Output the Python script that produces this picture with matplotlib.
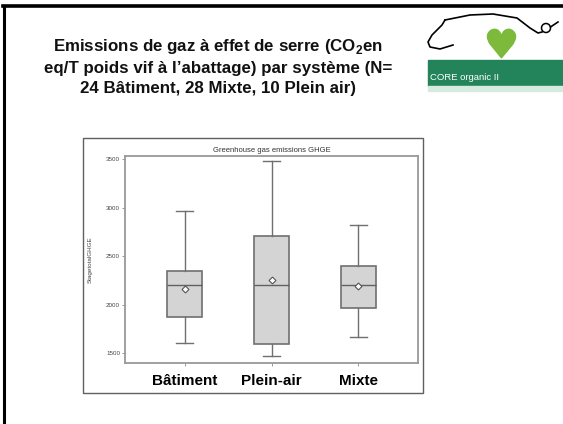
import matplotlib.pyplot as plt
from matplotlib.patches import Rectangle, Circle

# values
systems = ['Bâtiment', 'Plein-air', 'Mixte']
whisker_low = [1605, 1470, 1660]
q1 = [1870, 1590, 1965]
median = [2200, 2205, 2205]
mean = [2158, 2255, 2192]
q3 = [2348, 2705, 2398]
whisker_high = [2960, 3475, 2815]
yticks = [1500, 2000, 2500, 3000, 3500]

title_lines = ['Emissions de gaz à effet de serre (CO$_\\mathbf{2}$en',
               'eq/T poids vif à l\u2019abattage) par système (N=',
               '24 Bâtiment, 28 Mixte, 10 Plein air)']

plt.rcParams['font.family'] = ['Liberation Sans', 'DejaVu Sans']
plt.rcParams['mathtext.fontset'] = 'custom'
plt.rcParams['mathtext.bf'] = 'Liberation Sans:bold'

fig = plt.figure(figsize=(5.63, 4.24), dpi=100)
W, H = 563, 424

def fx(px):
    return px / W

def fy(py):
    return 1 - py / H

# slide border (top and left black lines)
fig.add_artist(plt.Line2D([fx(3), 1], [fy(6), fy(6)], color='black', lw=2.6))
fig.add_artist(plt.Line2D([fx(4), fx(4)], [fy(6), 0], color='black', lw=2.2))

# slide title
for i, line in enumerate(title_lines):
    fig.text(fx(218), fy(47 + i * 21), line, ha='center', va='center',
             fontsize=12.2, fontweight='bold', color='#111111')

# logo: pig outline, heart and green band
logo = fig.add_axes([fx(425), fy(95), fx(563 - 425), (95 - 10) / H])
logo.set_xlim(0, 138)
logo.set_ylim(85, 0)
logo.axis('off')
logo.plot([28, 15, 5, 3, 7, 17, 20],
          [35, 39, 37, 32, 25, 15, 10], color='black', lw=1.2)
logo.plot([20, 45, 68, 92, 105, 113, 117],
          [10, 5, 4, 8, 18, 23, 22], color='black', lw=1.2)
logo.add_patch(Circle((121, 18), 4.5, fill=False, edgecolor='black', lw=1.1))
logo.plot([125.5, 133], [17, 12], color='black', lw=1.2)
logo.scatter([76], [33], marker='$\u2665$', s=420, color='#7dba3c')
logo.add_patch(Rectangle((3, 50), 135, 26, color='#23835a'))
logo.add_patch(Rectangle((3, 76), 135, 5, color='#d6eadf'))
logo.text(5, 68, 'CORE organic II', color='white', fontsize=6.8, va='center')

# outer chart frame
fig.add_artist(Rectangle((fx(83), fy(393)), fx(423 - 83), (393 - 138) / H,
                         fill=False, edgecolor='#606060', lw=1.0))

ax = fig.add_axes([fx(125), fy(363), fx(418 - 125), (363 - 156) / H])
stats = []
for i in range(len(systems)):
    stats.append({'whislo': whisker_low[i], 'q1': q1[i], 'med': median[i],
                  'q3': q3[i], 'whishi': whisker_high[i], 'mean': mean[i],
                  'fliers': [], 'label': systems[i]})
edge = '#707070'
ax.bxp(stats, widths=0.4, patch_artist=True, showmeans=True,
       boxprops=dict(facecolor='#d4d4d4', edgecolor=edge, lw=1.2),
       medianprops=dict(color='#606060', lw=1.0),
       whiskerprops=dict(color=edge, lw=1.0),
       capprops=dict(color=edge, lw=1.0),
       meanprops=dict(marker='D', markersize=3.5, markerfacecolor='white',
                      markeredgecolor='#555555', markeredgewidth=0.8))
ax.set_xlim(0.31, 3.69)
ax.set_ylim(1397, 3531)
ax.set_yticks(yticks)
ax.set_yticklabels([str(t) for t in yticks], fontsize=4.5, color='#444444')
ax.set_xticklabels(systems, fontsize=11, fontweight='bold')
ax.tick_params(axis='y', length=2, width=0.6, color='#888888', pad=1.5)
ax.tick_params(axis='x', length=2, width=0.6, color='#888888', pad=6)
for sp in ax.spines.values():
    sp.set_color('#999999')
    sp.set_linewidth(1.3)
ax.set_ylabel('StagetotalGHGE', fontsize=4.5, color='#444444', labelpad=10)
ax.set_title('Greenhouse gas emissions GHGE', fontsize=5.5, color='#333333', pad=3)

fig.savefig('out.png', dpi=100)
